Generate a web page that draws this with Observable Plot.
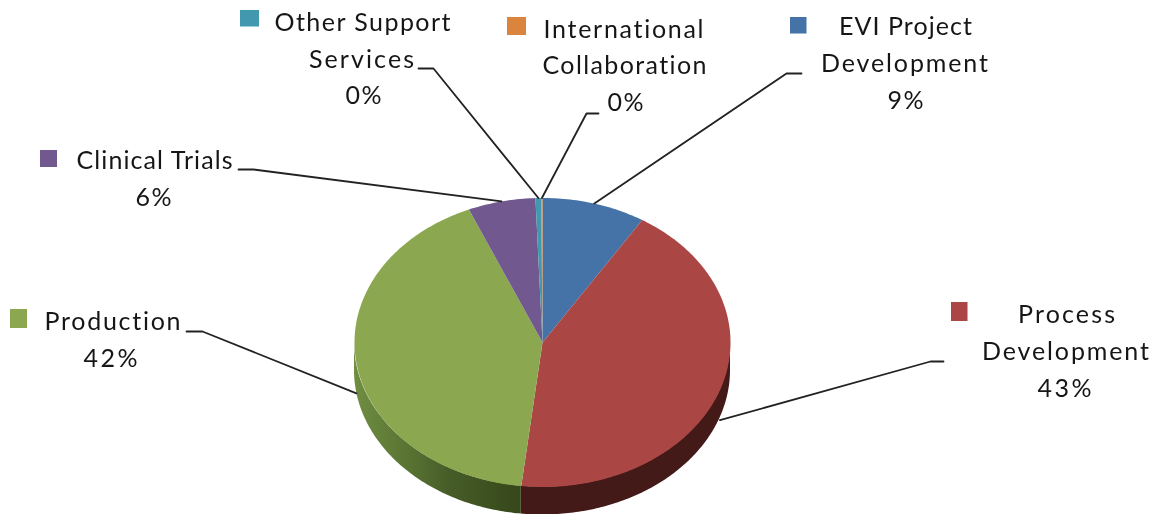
<!DOCTYPE html>
<html>
<head>
<meta charset="utf-8">
<script src="https://cdn.jsdelivr.net/npm/d3@7"></script>
<script src="https://cdn.jsdelivr.net/npm/@observablehq/plot@0.6"></script>
<style>
html,body{margin:0;padding:0;background:#fff;overflow:hidden}
svg{display:block;filter:blur(0.55px);font-variant-ligatures:none}
</style>
</head>
<body>
<div id="chart"></div>
<script>
// Data, clockwise from twelve o'clock
const categories = ["EVI Project\nDevelopment","Process\nDevelopment","Production","Clinical Trials","Other Support\nServices","International\nCollaboration"];
const shares = [8.9, 42.9, 41.8, 5.8, 0.5, 0.1];
const percentLabels = ["9%","43%","42%","6%","0%","0%"];
const colors = ["#4573a7","#aa4644","#8ba74f","#71588f","#4198af","#db843d"];

// Layout (pixels of the picture)
const pieCentre = [542, 342], radii = [188, 144.5], depth = 28;
const lineCentres = [[905,904,905],[1066,1065,1064],[112,110],[154,153],[362,361,363],[623,624,625]];
const lineMiddles = [[26,63,100],[314,351,388],[321,358],[160,197],[22,59,95],[29,65,102]];
const lineWidths = [[133,167,36],[97,167,54],[136,54],[156,36],[176,105,36],[160,164,36]];
const swatchX = [790, 951, 10, 40, 240, 507];
const swatchY = [17, 302, 309, 150, 10, 17];
const swatchW = [16.5, 16.5, 17, 17, 19, 19];
const swatchH = [16.5, 19, 19, 17, 16.5, 18];
const leaderStartX = [801, 943, 186, 238, 418, 598];
const leaderElbowX = [786, 930, 202, 253, 433, 586];
const leaderY = [73, 361, 331, 169, 68, 113];

const px = a => pieCentre[0] + radii[0] * Math.sin(a);
const py = a => pieCentre[1] - radii[1] * Math.cos(a);
const total = d3.sum(shares);
const TAU = 2 * Math.PI;
let acc = 0;
const slices = categories.map((name, i) => {
  const a0 = acc / total * TAU; acc += shares[i]; const a1 = acc / total * TAU;
  return {i, name, a0, a1, mid: (a0 + a1) / 2, color: colors[i]};
});

// Top faces
const facePts = slices.flatMap(s => {
  const n = Math.max(2, Math.ceil((s.a1 - s.a0) * 60));
  const arc = d3.range(n + 1).map(k => s.a0 + (s.a1 - s.a0) * k / n);
  return [{x: pieCentre[0], y: pieCentre[1], s: s.i, color: s.color},
          ...arc.map(a => ({x: px(a), y: py(a), s: s.i, color: s.color}))];
});

// Side wall: Process flat dark, Production shaded left to right
const process = slices[1];
const wall = (from, to) => d3.range(0, 121).map(k => {
  const a = from + (to - from) * k / 120;
  return {x: px(a), y1: py(a), y2: py(a) + depth};
});
const redSide = wall(Math.PI / 2, process.a1);
const greenSide = wall(process.a1, 3 * Math.PI / 2);

const gradientDefs = () => {
  const defs = d3.create("svg:defs");
  const g = defs.append("linearGradient").attr("id", "sideShade").attr("gradientUnits", "userSpaceOnUse")
    .attr("x1", 354).attr("x2", 521).attr("y1", 0).attr("y2", 0);
  [[0, "#6f8e41"], [0.28, "#5c7735"], [0.58, "#465c28"], [1, "#364719"]].forEach(([o, c]) =>
    g.append("stop").attr("offset", o).attr("stop-color", c));
  return defs.node();
};

// Leader lines end on the middle of each slice's rim (wall for the front slices)
const leaders = slices.flatMap(s => {
  const front = Math.cos(s.mid) < 0;
  const endY = py(s.mid) + (front ? depth + 2 : 0);
  return [
    {x: leaderStartX[s.i], y: leaderY[s.i], s: s.i},
    {x: leaderElbowX[s.i], y: leaderY[s.i], s: s.i},
    {x: px(s.mid), y: endY, s: s.i}
  ];
});

const labelLines = slices.flatMap(s =>
  [...s.name.split("\n"), percentLabels[s.i]].map((text, k) => ({
    text, x: lineCentres[s.i][k], y: lineMiddles[s.i][k], w: lineWidths[s.i][k]
  })));
const swatches = slices.map(s => ({
  x1: swatchX[s.i], x2: swatchX[s.i] + swatchW[s.i],
  y1: swatchY[s.i], y2: swatchY[s.i] + swatchH[s.i], color: s.color
}));

const chart = Plot.plot({
  width: 1168, height: 514,
  margin: 0,
  x: {domain: [0, 1168], range: [0, 1168], axis: null},
  y: {domain: [0, 514], range: [0, 514], axis: null},
  color: {type: "identity"},
  style: {background: "#fff", fontFamily: "Lato"},
  marks: [
    gradientDefs,
    Plot.areaY(redSide, {x: "x", y1: "y1", y2: "y2", fill: "#441a18", curve: "linear"}),
    Plot.areaY(greenSide, {x: "x", y1: "y1", y2: "y2", fill: "url(#sideShade)", curve: "linear"}),
    Plot.line(facePts, {x: "x", y: "y", z: "s", fill: "color", stroke: null, curve: "linear"}),
    Plot.line(leaders, {x: "x", y: "y", z: "s", stroke: "#222", strokeWidth: 1.8, curve: "linear"}),
    Plot.rect(swatches, {x1: "x1", x2: "x2", y1: "y1", y2: "y2", fill: "color"}),
    Plot.text(labelLines, {x: "x", y: "y", text: "text", fontSize: 25, lineAnchor: "middle", textAnchor: "middle", fill: "#161616"})
  ]
});
chart.querySelectorAll('g[aria-label="text"] text').forEach((t, i) => {
  t.setAttribute("textLength", labelLines[i].w);
  t.setAttribute("lengthAdjust", "spacing");
});
document.getElementById("chart").append(chart);
</script>
</body>
</html>
